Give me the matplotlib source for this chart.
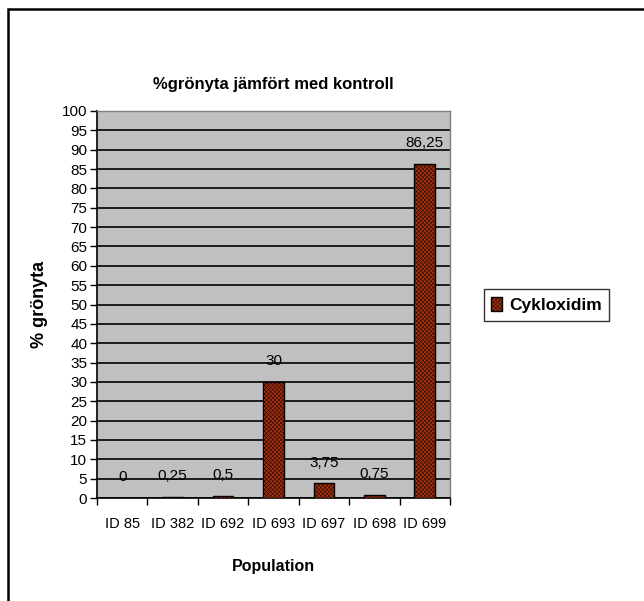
import matplotlib
matplotlib.use("Agg")
import matplotlib.pyplot as plt
from matplotlib.patches import Rectangle

plt.rcParams['font.family'] = ['Liberation Sans', 'DejaVu Sans']
plt.rcParams['hatch.color'] = '#86240a'
plt.rcParams['hatch.linewidth'] = 0.3

categories = ['ID 85', 'ID 382', 'ID 692', 'ID 693', 'ID 697', 'ID 698', 'ID 699']
values = [0, 0.25, 0.5, 30, 3.75, 0.75, 86.25]
value_labels = ['0', '0,25', '0,5', '30', '3,75', '0,75', '86,25']
yticks = list(range(0, 101, 5))
series_name = 'Cykloxidim'

W, H = 644, 601
fig = plt.figure(figsize=(W / 100, H / 100), dpi=100)
ax = fig.add_axes([97 / W, 1 - 498 / H, (450 - 97) / W, (498 - 111) / H])
ax.set_facecolor('#C0C0C0')

x = list(range(len(categories)))
bars = ax.bar(x, values, width=0.41, color='#A3300F', edgecolor='black',
              linewidth=1.0, hatch='xxxxxxxx', zorder=3, label=series_name)
for xi, v, lab in zip(x, values, value_labels):
    ax.annotate(lab, (xi, v), xytext=(0, 10), textcoords='offset points',
                ha='center', va='bottom', fontsize=11, zorder=4)

ax.set_xlim(-0.5, len(categories) - 0.5)
ax.set_ylim(0, 100)
ax.set_yticks(yticks)
ax.set_yticklabels([str(t) for t in yticks], fontsize=11)
ax.yaxis.grid(True, color='black', linewidth=1.2, zorder=1)
ax.set_axisbelow(True)
ax.tick_params(axis='y', direction='out', length=5, width=1, pad=2)

ax.set_xticks(x)
ax.set_xticklabels(categories, fontsize=10.5)
ax.set_xticks([i - 0.5 for i in range(len(categories) + 1)], minor=True)
ax.tick_params(axis='x', which='major', length=0, pad=14)
ax.tick_params(axis='x', which='minor', direction='out', length=5, width=1)

for s in ['left', 'bottom']:
    ax.spines[s].set_color('black')
    ax.spines[s].set_linewidth(1.2)
for s in ['top', 'right']:
    ax.spines[s].set_color('#808080')
    ax.spines[s].set_linewidth(1.0)

ax.set_title('%grönyta jämfört med kontroll', fontsize=12, fontweight='bold', pad=16)
ax.set_ylabel('% grönyta', fontsize=13, fontweight='bold', labelpad=10)
ax.set_xlabel('Population', fontsize=11.5, fontweight='bold', labelpad=20)

leg = ax.legend(loc='center left', bbox_to_anchor=(475 / W, 1 - 305 / H),
                bbox_transform=fig.transFigure, prop={'weight': 'bold', 'size': 12.5},
                frameon=True, fancybox=False, handlelength=0.6, handleheight=0.9,
                handletextpad=0.4, borderpad=0.45)
leg.get_frame().set_edgecolor('black')
leg.get_frame().set_linewidth(1.0)

fig.patches.append(Rectangle((8 / W, -0.1), 1.2, 1 - 9 / H + 0.1, transform=fig.transFigure,
                             fill=False, edgecolor='black', linewidth=1.8))

fig.savefig('out.png', dpi=100)
